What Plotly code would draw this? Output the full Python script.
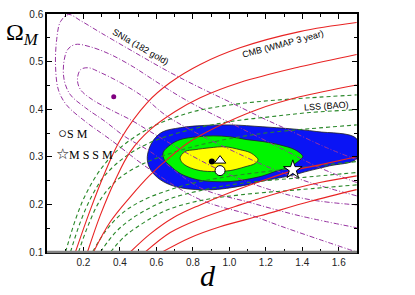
import plotly.graph_objects as go

# ---------------- data (d, Omega_M) ----------------
# CMB (WMAP 3 year) contour boundaries (red, solid)
cmb_u1_d = [0.156, 0.238, 0.320, 0.402, 0.550, 0.676, 0.840, 1.058, 1.386, 1.698]
cmb_u1_o = [0.100, 0.189, 0.269, 0.336, 0.414, 0.456, 0.494, 0.529, 0.563, 0.582]
cmb_u2_d = [0.222, 0.293, 0.375, 0.457, 0.566, 0.703, 0.840, 1.058, 1.386, 1.698]
cmb_u2_o = [0.100, 0.178, 0.252, 0.311, 0.357, 0.395, 0.424, 0.456, 0.489, 0.515]
cmb_u3_d = [0.255, 0.348, 0.457, 0.566, 0.676, 0.785, 0.933, 1.151, 1.386, 1.698]
cmb_u3_o = [0.100, 0.164, 0.216, 0.262, 0.300, 0.332, 0.363, 0.399, 0.426, 0.451]
cmb_l1_d = [0.457, 0.566, 0.692, 0.840, 1.004, 1.168, 1.348, 1.496, 1.698]
cmb_l1_o = [0.100, 0.138, 0.172, 0.199, 0.225, 0.248, 0.271, 0.283, 0.300]
cmb_l2_d = [0.539, 0.676, 0.840, 1.058, 1.277, 1.496, 1.698]
cmb_l2_o = [0.100, 0.141, 0.170, 0.199, 0.225, 0.246, 0.260]
cmb_l3_d = [0.632, 0.785, 0.949, 1.168, 1.441, 1.698]
cmb_l3_o = [0.100, 0.130, 0.153, 0.176, 0.206, 0.231]

# LSS (BAO) contour boundaries (green, dashed)
lss_u1_d = [0.102, 0.156, 0.211, 0.293, 0.402, 0.566, 0.785, 1.004, 1.222, 1.441, 1.698]
lss_u1_o = [0.100, 0.168, 0.220, 0.273, 0.319, 0.361, 0.393, 0.409, 0.418, 0.424, 0.430]
lss_u2_d = [0.129, 0.184, 0.249, 0.320, 0.429, 0.566, 0.785, 1.004, 1.222, 1.441, 1.698]
lss_u2_o = [0.100, 0.164, 0.220, 0.262, 0.300, 0.330, 0.357, 0.374, 0.384, 0.393, 0.399]
lss_u3_d = [0.173, 0.227, 0.293, 0.375, 0.484, 0.621, 0.840, 1.058, 1.222, 1.441, 1.698]
lss_u3_o = [0.100, 0.157, 0.210, 0.248, 0.277, 0.300, 0.325, 0.342, 0.351, 0.359, 0.367]
lss_l1_d = [0.249, 0.320, 0.402, 0.512, 0.676, 0.840, 1.058, 1.386, 1.698]
lss_l1_o = [0.100, 0.143, 0.178, 0.206, 0.231, 0.248, 0.262, 0.277, 0.290]
lss_l2_d = [0.293, 0.375, 0.457, 0.566, 0.676, 0.840, 1.058, 1.386, 1.698]
lss_l2_o = [0.100, 0.141, 0.168, 0.193, 0.212, 0.229, 0.244, 0.256, 0.267]
lss_l3_d = [0.348, 0.429, 0.512, 0.593, 0.676, 0.840, 1.058, 1.386, 1.698]
lss_l3_o = [0.100, 0.134, 0.157, 0.176, 0.191, 0.208, 0.220, 0.231, 0.241]

# SNIa (182 gold) contours (purple, dash-dot)
sn_3_d = [1.698, 1.534, 1.332, 1.168, 0.987, 0.840, 0.676, 0.473, 0.293, 0.184, 0.118,
          0.074, 0.053, 0.047, 0.063, 0.107, 0.211, 0.348, 0.566, 0.840, 1.113, 1.277, 1.496, 1.698]
sn_3_o = [0.294, 0.319, 0.355, 0.384, 0.418, 0.445, 0.477, 0.521, 0.561, 0.586, 0.599,
          0.584, 0.546, 0.489, 0.440, 0.409, 0.374, 0.336, 0.273, 0.210, 0.178, 0.155, 0.126, 0.100]
sn_2_d = [1.698, 1.496, 1.277, 1.058, 0.840, 0.714, 0.566, 0.473, 0.348, 0.238, 0.156,
          0.113, 0.091, 0.096, 0.129, 0.211, 0.320, 0.429, 0.566, 0.840, 1.113, 1.386, 1.698]
sn_2_o = [0.246, 0.277, 0.319, 0.361, 0.403, 0.430, 0.466, 0.489, 0.515, 0.531, 0.536,
          0.525, 0.494, 0.458, 0.430, 0.403, 0.374, 0.342, 0.311, 0.235, 0.204, 0.176, 0.151]
sn_1_d = [1.698, 1.441, 1.222, 1.004, 0.785, 0.648, 0.528, 0.402, 0.293, 0.227, 0.184,
          0.167, 0.184, 0.249, 0.348, 0.457, 0.566, 0.785, 1.004, 1.222, 1.441, 1.698]
sn_1_o = [0.218, 0.246, 0.277, 0.315, 0.357, 0.388, 0.426, 0.456, 0.477, 0.487, 0.483,
          0.462, 0.441, 0.420, 0.399, 0.378, 0.353, 0.304, 0.262, 0.231, 0.210, 0.199]
sn_best = (0.366, 0.426)

# Combined confidence regions (filled)
c3_d = [0.550, 0.566, 0.594, 0.637, 0.730, 0.823, 1.004, 1.184, 1.332, 1.480, 1.698,
        1.698, 1.550, 1.441, 1.332, 1.168, 1.097, 0.911, 0.730, 0.637, 0.583, 0.556]
c3_o = [0.300, 0.323, 0.340, 0.353, 0.361, 0.365, 0.367, 0.363, 0.359, 0.353, 0.338,
        0.296, 0.281, 0.271, 0.260, 0.248, 0.241, 0.231, 0.235, 0.248, 0.265, 0.283]
c2_d = [0.637, 0.676, 0.730, 0.823, 0.911, 1.004, 1.097, 1.184, 1.277, 1.359, 1.398, 1.403,
        1.376, 1.332, 1.250, 1.184, 1.086, 1.004, 0.911, 0.823, 0.730, 0.676, 0.643]
c2_o = [0.309, 0.325, 0.336, 0.342, 0.344, 0.342, 0.336, 0.332, 0.325, 0.315, 0.304, 0.300,
        0.290, 0.279, 0.269, 0.260, 0.252, 0.248, 0.248, 0.252, 0.265, 0.281, 0.294]
c1_d = [0.730, 0.757, 0.812, 0.894, 0.976, 1.058, 1.113, 1.146, 1.157, 1.141, 1.086,
        1.004, 0.922, 0.840, 0.774, 0.741]
c1_o = [0.298, 0.311, 0.315, 0.319, 0.321, 0.315, 0.309, 0.300, 0.294, 0.286, 0.279,
        0.271, 0.269, 0.271, 0.279, 0.288]

best_fit = (0.904, 0.290)
tri_point = (0.949, 0.292)
sm_point = (0.949, 0.271)
mssm_point = (1.348, 0.273)

x_ticks = [0.2, 0.4, 0.6, 0.8, 1.0, 1.2, 1.4, 1.6]
y_ticks = [0.1, 0.2, 0.3, 0.4, 0.5, 0.6]

# ---------------- figure ----------------
RED = "rgb(232,36,36)"
GREEN = "rgb(40,135,40)"
PURPLE = "rgb(150,50,160)"

fig = go.Figure()

for dd, oo, col in [(c3_d, c3_o, "rgb(10,20,245)"),
                    (c2_d, c2_o, "rgb(0,245,0)"),
                    (c1_d, c1_o, "rgb(255,255,0)")]:
    fig.add_trace(go.Scatter(x=dd + dd[:1], y=oo + oo[:1], mode="lines", fill="toself",
                             fillcolor=col, line=dict(color="#222", width=0.8, shape="spline"),
                             hoverinfo="skip"))

for dd, oo in [(sn_3_d, sn_3_o), (sn_2_d, sn_2_o), (sn_1_d, sn_1_o)]:
    fig.add_trace(go.Scatter(x=dd, y=oo, mode="lines",
                             line=dict(color=PURPLE, width=1, dash="5px,2px,1px,2px", shape="spline")))

for dd, oo in [(lss_u1_d, lss_u1_o), (lss_u2_d, lss_u2_o), (lss_u3_d, lss_u3_o),
               (lss_l1_d, lss_l1_o), (lss_l2_d, lss_l2_o), (lss_l3_d, lss_l3_o)]:
    fig.add_trace(go.Scatter(x=dd, y=oo, mode="lines",
                             line=dict(color=GREEN, width=1.1, dash="4px,3px", shape="spline")))

for dd, oo in [(cmb_u1_d, cmb_u1_o), (cmb_u2_d, cmb_u2_o), (cmb_u3_d, cmb_u3_o),
               (cmb_l1_d, cmb_l1_o), (cmb_l2_d, cmb_l2_o), (cmb_l3_d, cmb_l3_o)]:
    fig.add_trace(go.Scatter(x=dd, y=oo, mode="lines",
                             line=dict(color=RED, width=1.1, shape="spline")))

fig.add_trace(go.Scatter(x=[sn_best[0]], y=[sn_best[1]], mode="markers",
                         marker=dict(color="rgb(128,0,128)", size=5)))
fig.add_trace(go.Scatter(x=[best_fit[0]], y=[best_fit[1]], mode="markers",
                         marker=dict(color="black", size=6)))
fig.add_trace(go.Scatter(x=[tri_point[0]], y=[tri_point[1]], mode="markers",
                         marker=dict(symbol="triangle-up", color="white", size=10,
                                     line=dict(color="black", width=1))))
fig.add_trace(go.Scatter(x=[sm_point[0]], y=[sm_point[1]], mode="markers",
                         marker=dict(symbol="circle", color="white", size=10,
                                     line=dict(color="black", width=1))))
fig.add_trace(go.Scatter(x=[mssm_point[0]], y=[mssm_point[1]], mode="markers",
                         marker=dict(symbol="star", color="white", size=14,
                                     line=dict(color="black", width=1))))

axis_common = dict(showgrid=False, zeroline=False, showline=True, linecolor="black",
                   linewidth=1.5, mirror="allticks", ticks="inside", ticklen=5,
                   tickcolor="black", tickwidth=1, automargin=False,
                   tickfont=dict(family="Liberation Sans, Arial", size=10, color="#222"))

fig.update_xaxes(range=[0, 1.7], tickvals=x_ticks, tickformat=".1f",
                 minor=dict(ticks="inside", ticklen=3, dtick=0.1, tickcolor="black"),
                 **axis_common)
fig.update_yaxes(range=[0.1, 0.6], tickvals=y_ticks, tickformat=".1f",
                 minor=dict(ticks="inside", ticklen=3, dtick=0.05, tickcolor="black"),
                 **axis_common)

serif = "Liberation Serif, Times New Roman, serif"
sans = "Liberation Sans, Arial, sans-serif"


def ann(text, x, y, size, family, angle=0, xanchor="center"):
    return dict(text=text, x=x, y=y, xref="paper", yref="paper", xanchor=xanchor,
                yanchor="middle", textangle=angle, showarrow=False,
                font=dict(family=family, size=size, color="black"))


fig.update_layout(
    width=415, height=295, showlegend=False,
    margin=dict(l=47, r=58, t=14, b=43),
    paper_bgcolor="white", plot_bgcolor="white",
    shapes=[dict(type="line", xref="paper", yref="paper", x0=0, x1=1, y0=0, y1=0,
                 line=dict(color="rgb(130,130,130)", width=2.5))],
    annotations=[
        ann("Ω<sub><i>M</i></sub>", -0.14, 0.915, 24, serif, xanchor="left"),
        ann("<i>d</i>", 0.519, -0.10, 30, serif),
        ann("SNIa (182 gold)", 0.303, 0.861, 9, sans, angle=30),
        ann("CMB (WMAP 3 year)", 0.761, 0.874, 9, sans, angle=-15),
        ann("LSS (BAO)", 0.903, 0.613, 9, sans, angle=-4),
        ann("<span style='font-size:15px'>○</span>S M", 0.030, 0.50, 12, serif, xanchor="left"),
        ann("<span style='font-size:15px'>☆</span>M S S M", 0.022, 0.41, 12, serif, xanchor="left"),
    ],
)

fig.write_html("out.html", config={"displayModeBar": False},
               post_script="document.body.style.margin='0';")
